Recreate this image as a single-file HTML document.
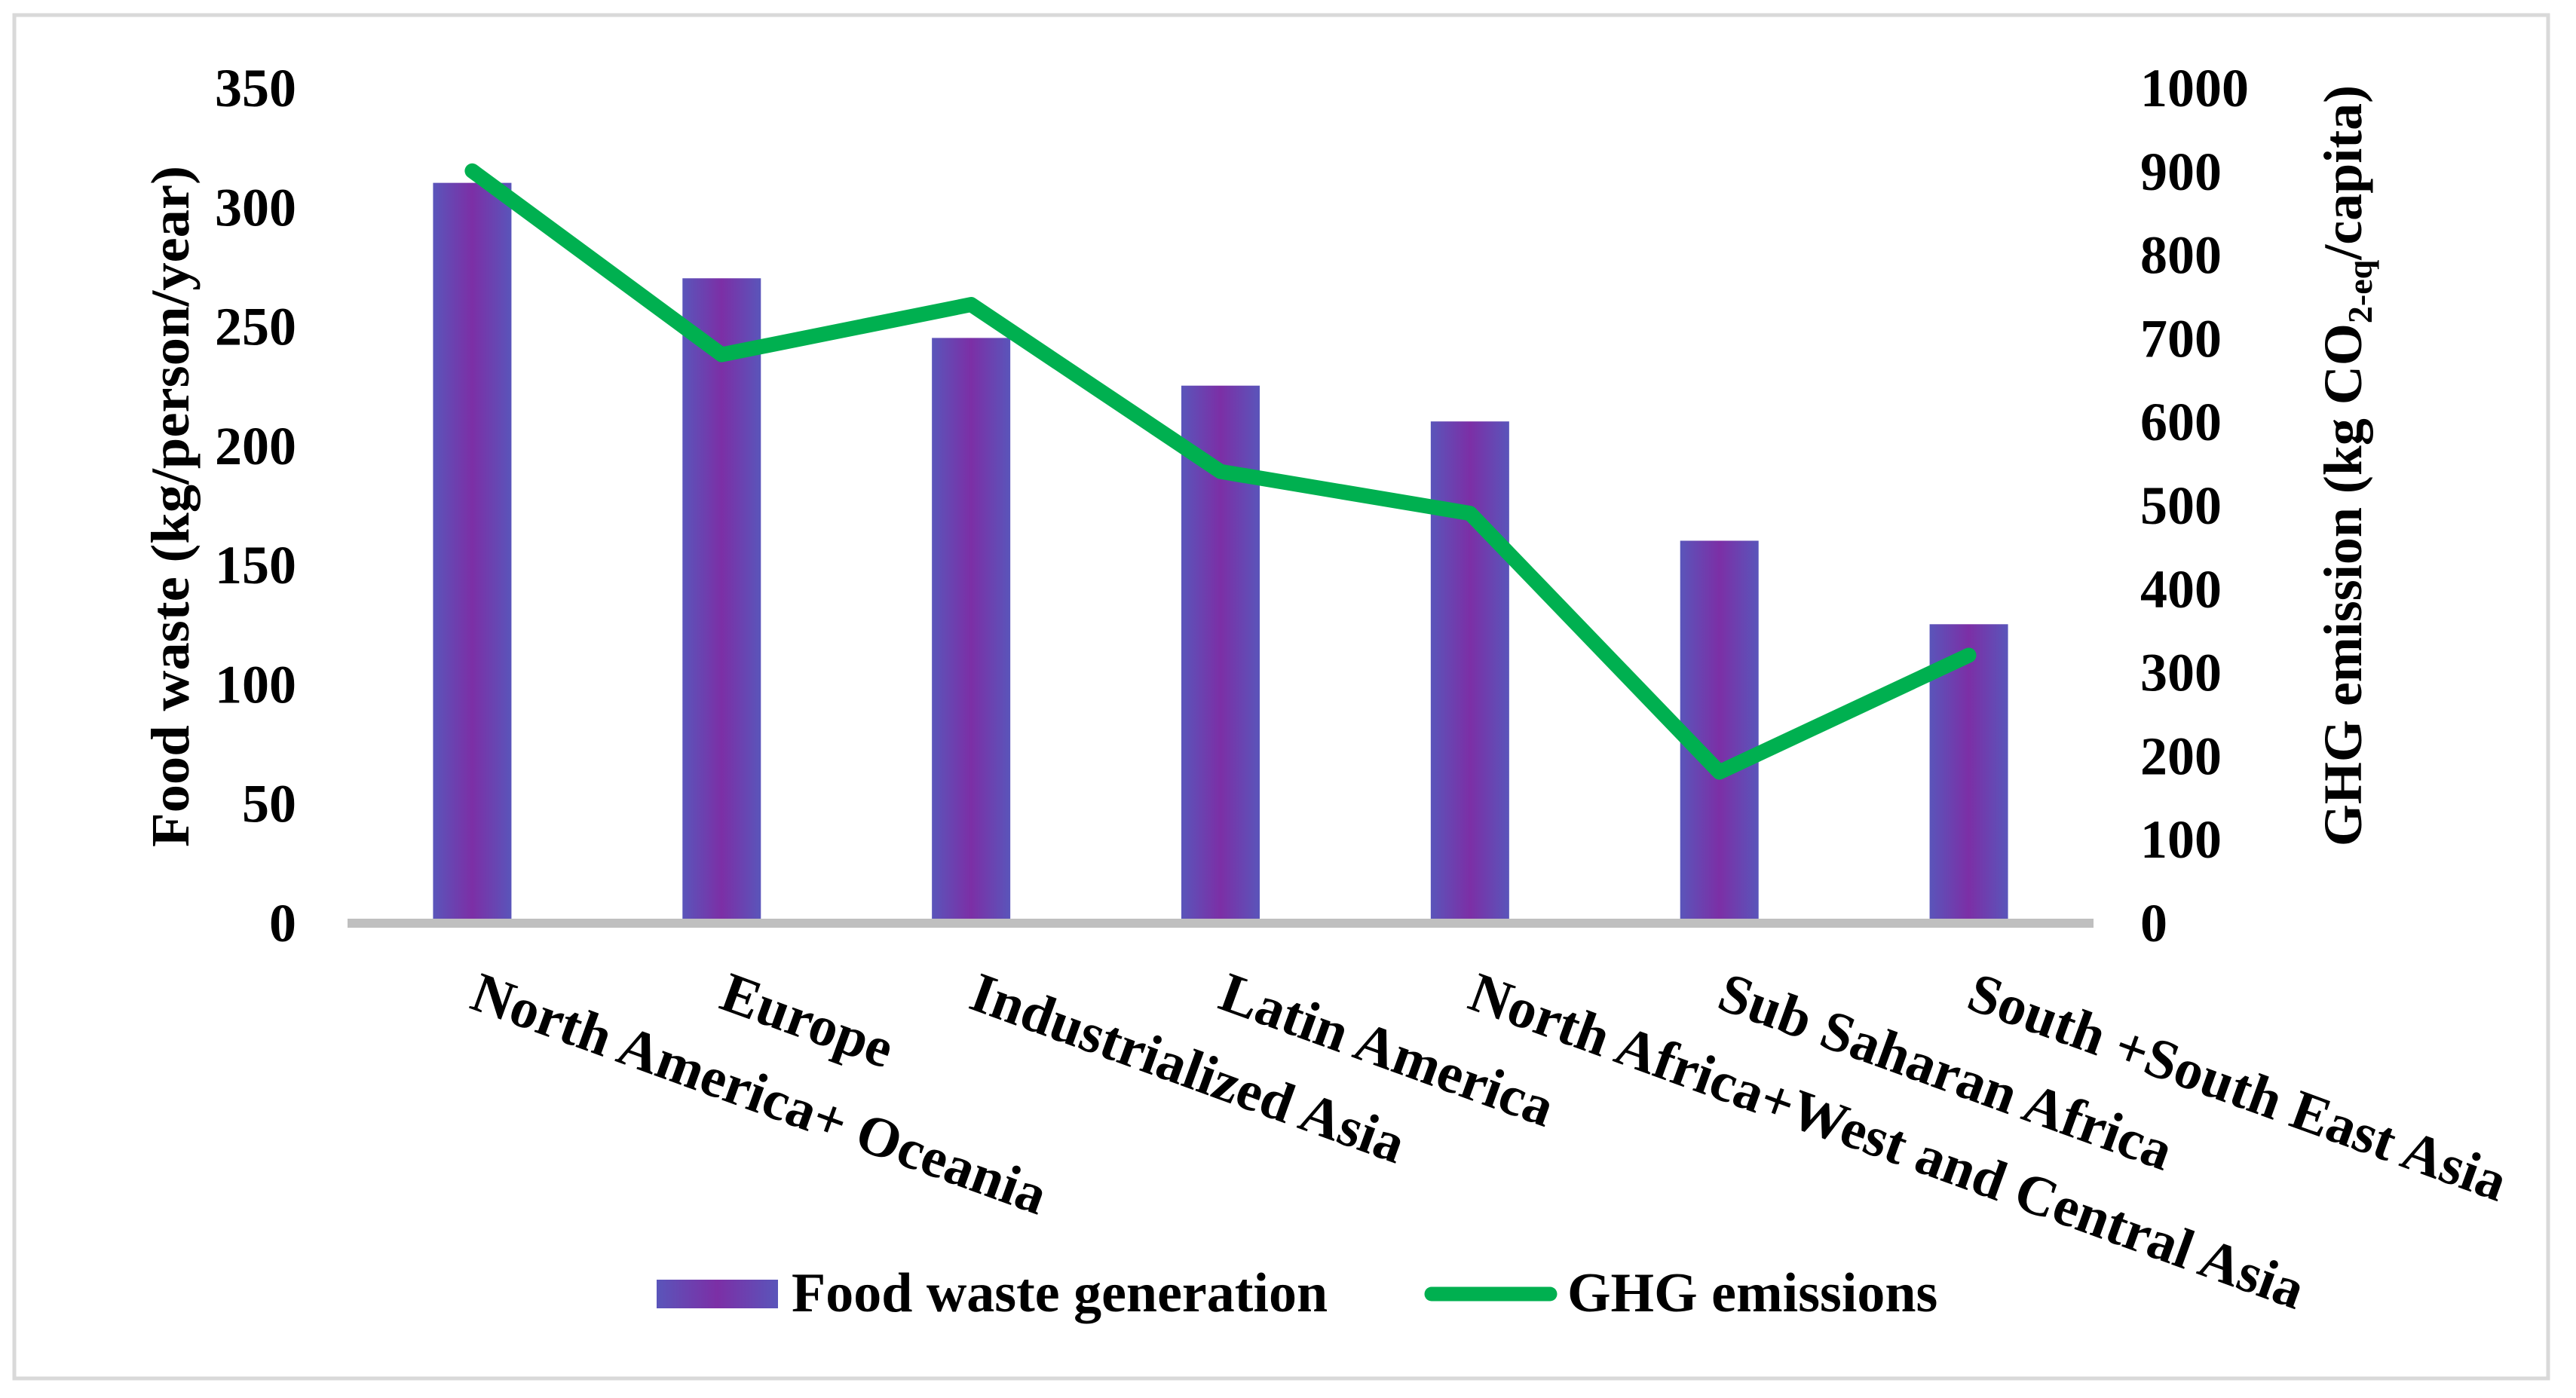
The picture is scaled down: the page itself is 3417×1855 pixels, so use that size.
<!DOCTYPE html>
<html><head><meta charset="utf-8"><style>
html,body{margin:0;padding:0;background:#fff;}
svg{display:block;font-family:"Liberation Serif",serif;font-weight:bold;}
</style></head><body>
<svg id="chart" width="3417" height="1855" viewBox="0 0 3417 1855" xmlns="http://www.w3.org/2000/svg">
<defs>
<linearGradient id="barGrad" x1="0" x2="1" y1="0" y2="0">
<stop offset="0" stop-color="#5a55ba"/><stop offset="0.5" stop-color="#7c2fa6"/><stop offset="1" stop-color="#5a55ba"/>
</linearGradient>
</defs>
<rect x="19" y="20" width="3361" height="1809" fill="#fff" stroke="#d9d9d9" stroke-width="5"/>
<g id="bars"></g>
<line x1="461" y1="1225" x2="2777" y2="1225" stroke="#bfbfbf" stroke-width="12"/>
<g id="line"></g>
<g id="yticksL" font-size="72" text-anchor="end"></g>
<g id="yticksR" font-size="72" text-anchor="start"></g>
<g id="xlabels" font-size="75"></g>
<text transform="translate(250,672) rotate(-90)" text-anchor="middle" font-size="72" textLength="904" lengthAdjust="spacingAndGlyphs">Food waste (kg/person/year)</text>
<text transform="translate(3132,618) rotate(-90)" text-anchor="middle" font-size="72">GHG emission (kg CO<tspan font-size="46" dy="14">2-eq</tspan><tspan dy="-14">/capita)</tspan></text>
<g>
<rect x="871" y="1698" width="161" height="38" fill="url(#barGrad)"/>
<text x="1050" y="1740" font-size="74">Food waste generation</text>
<line x1="1899" y1="1717" x2="2056" y2="1717" stroke="#00b050" stroke-width="19" stroke-linecap="round"/>
<text x="2079" y="1740" font-size="74">GHG emissions</text>
</g>
</svg>
<script>
const categories = ["North America+ Oceania","Europe","Industrialized Asia","Latin America","North Africa+West and Central Asia","Sub Saharan Africa","South +South East Asia"];
const foodWaste = [310,270,245,225,210,160,125];
const ghg = [900,680,740,540,490,180,320];
const leftTicks = [0,50,100,150,200,250,300,350];
const rightTicks = [0,100,200,300,400,500,600,700,800,900,1000];

const NS = "http://www.w3.org/2000/svg";
const x0 = 461, x1 = 2777, yBase = 1224, yTop = 116;
const band = (x1 - x0) / categories.length;
const xc = i => x0 + band * (i + 0.5);
const yL = v => yBase - (yBase - yTop) * v / 350;
const yR = v => yBase - (yBase - yTop) * v / 1000;
function mk(tag, attrs, parent){const e=document.createElementNS(NS,tag);for(const k in attrs)e.setAttribute(k,attrs[k]);parent.appendChild(e);return e;}

const gb = document.getElementById('bars');
foodWaste.forEach((v,i)=>{
  const w = 104;
  const r = mk('rect',{x:xc(i)-w/2,y:yL(v),width:w,height:yBase-yL(v),fill:'url(#barGrad)'},gb);
  
  
});
const gl = document.getElementById('line');
const pts = ghg.map((v,i)=>xc(i)+','+yR(v)).join(' ');
const pl = mk('polyline',{points:pts,fill:'none',stroke:'#00b050','stroke-width':20,'stroke-linejoin':'round','stroke-linecap':'round'},gl);



const gL = document.getElementById('yticksL');
leftTicks.forEach(t=>{
  const e = mk('text',{x:393,y:yL(t)+25},gL); e.textContent=t;
  
  
});
const gR = document.getElementById('yticksR');
rightTicks.forEach(t=>{
  const e = mk('text',{x:2839,y:yR(t)+25},gR); e.textContent=t;
  
  
});
const gx = document.getElementById('xlabels');
categories.forEach((c,i)=>{
  const e = mk('text',{transform:'translate('+(xc(i)+12)+',1288) rotate(20)',y:52},gx); e.textContent=c;
  
  
});
</script>
</body></html>
